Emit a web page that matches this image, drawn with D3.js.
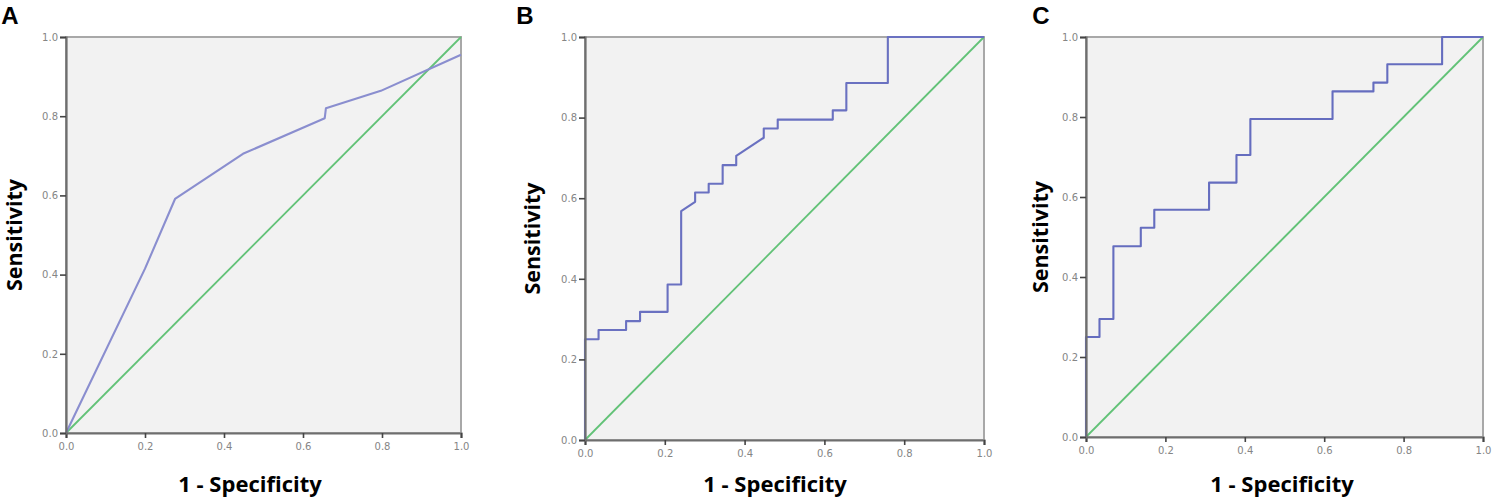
<!DOCTYPE html>
<html>
<head>
<meta charset="utf-8">
<script src="https://cdn.jsdelivr.net/npm/d3@7"></script>
<style>
  body { margin: 0; background: #fff; }
  svg { display: block; }
</style>
</head>
<body>
<div id="container"></div>
<script>
// ROC curves (x = 1 - specificity, y = sensitivity)
const rocA_x = [0, 0.2, 0.276, 0.448, 0.655, 0.658, 0.797, 1];
const rocA_y = [0, 0.415, 0.591, 0.705, 0.795, 0.82, 0.864, 0.955];

const rocB_x = [0, 0, 0.034, 0.034, 0.103, 0.103, 0.138, 0.138, 0.207, 0.207, 0.241, 0.241, 0.276, 0.276,
  0.31, 0.31, 0.345, 0.345, 0.379, 0.379, 0.448, 0.448, 0.483, 0.483, 0.621, 0.621, 0.655, 0.655, 0.759, 0.759, 1];
const rocB_y = [0, 0.25, 0.25, 0.273, 0.273, 0.295, 0.295, 0.318, 0.318, 0.386, 0.386, 0.568, 0.591, 0.614,
  0.614, 0.636, 0.636, 0.682, 0.682, 0.705, 0.75, 0.773, 0.773, 0.795, 0.795, 0.818, 0.818, 0.886, 0.886, 1, 1];

const rocC_x = [0, 0, 0.034, 0.034, 0.069, 0.069, 0.138, 0.138, 0.172, 0.172, 0.31, 0.31, 0.379, 0.379,
  0.414, 0.414, 0.621, 0.621, 0.724, 0.724, 0.759, 0.759, 0.897, 0.897, 1];
const rocC_y = [0, 0.25, 0.25, 0.295, 0.295, 0.477, 0.477, 0.523, 0.523, 0.568, 0.568, 0.636, 0.636, 0.705,
  0.705, 0.795, 0.795, 0.864, 0.864, 0.886, 0.886, 0.932, 0.932, 1, 1];

const refLine = [0, 1];
const ticks = [0, 0.2, 0.4, 0.6, 0.8, 1.0];
const panelLetters = ["A", "B", "C"];

const panels = [
  {xs: rocA_x, ys: rocA_y, box: [66, 461, 37, 433], stroke: "#8a8ecf", lx: 10, labX: 14, tx: 250},
  {xs: rocB_x, ys: rocB_y, box: [585, 984, 37, 440], stroke: "#6a71c1", lx: 525, labX: 532, tx: 775},
  {xs: rocC_x, ys: rocC_y, box: [1086, 1483, 37, 437], stroke: "#656dbf", lx: 1041, labX: 1040, tx: 1282}
];

const svg = d3.select("#container")
  .append("svg")
  .attr("width", 1496)
  .attr("height", 499);

panels.forEach((p, k) => {
  const [l, r, t, b] = p.box;
  const x = d3.scaleLinear().domain([0, 1]).range([l, r]);
  const y = d3.scaleLinear().domain([0, 1]).range([b, t]);

  const g = svg.append("g");

  g.append("rect")
    .attr("x", l).attr("y", t)
    .attr("width", r - l).attr("height", b - t)
    .attr("fill", "#f2f2f2")
    .attr("stroke", "#a8a8a8")
    .attr("stroke-width", 2);

  // reference diagonal
  g.append("line")
    .attr("x1", x(refLine[0])).attr("y1", y(refLine[0]))
    .attr("x2", x(refLine[1])).attr("y2", y(refLine[1]))
    .attr("stroke", "#62c277")
    .attr("stroke-width", 1.8);

  const pts = p.xs.map((v, i) => [v, p.ys[i]]);
  g.append("path")
    .datum(pts)
    .attr("fill", "none")
    .attr("stroke", p.stroke)
    .attr("stroke-width", 2.1)
    .attr("stroke-linejoin", "round")
    .attr("d", d3.line().x(d => x(d[0])).y(d => y(d[1])));

  const fmt = d3.format(".1f");

  const xAxis = g.append("g")
    .attr("transform", "translate(0," + b + ")")
    .call(d3.axisBottom(x).tickValues(ticks).tickFormat(fmt).tickSize(5).tickPadding(5));

  const yAxis = g.append("g")
    .attr("transform", "translate(" + l + ",0)")
    .call(d3.axisLeft(y).tickValues(ticks).tickFormat(fmt).tickSize(6).tickPadding(2));

  [xAxis, yAxis].forEach(a => {
    a.select(".domain").attr("stroke", "#6e6e6e").attr("stroke-width", 2.2);
    a.selectAll(".tick line").attr("stroke", "#444").attr("stroke-width", 1.6);
    a.selectAll(".tick text")
      .attr("fill", "#858585")
      .style("font-family", "'DejaVu Sans', sans-serif")
      .style("font-size", "10px");
  });

  g.append("text")
    .attr("x", p.lx).attr("y", 24)
    .attr("text-anchor", "middle")
    .style("font-family", "'Liberation Sans', Arial, sans-serif")
    .style("font-weight", "bold")
    .style("font-size", "24px")
    .text(panelLetters[k]);

  g.append("text")
    .attr("transform", "translate(" + (p.labX + 8) + "," + ((t + b) / 2) + ") rotate(-90)")
    .attr("text-anchor", "middle")
    .style("font-family", "'Open Sans', sans-serif")
    .style("font-weight", "bold")
    .style("font-size", "21.5px")
    .text("Sensitivity");

  g.append("text")
    .attr("x", p.tx).attr("y", 492)
    .attr("text-anchor", "middle")
    .style("font-family", "'Open Sans', sans-serif")
    .style("font-weight", "bold")
    .style("font-size", "22px")
    .text("1 - Specificity");
});
</script>
</body>
</html>
